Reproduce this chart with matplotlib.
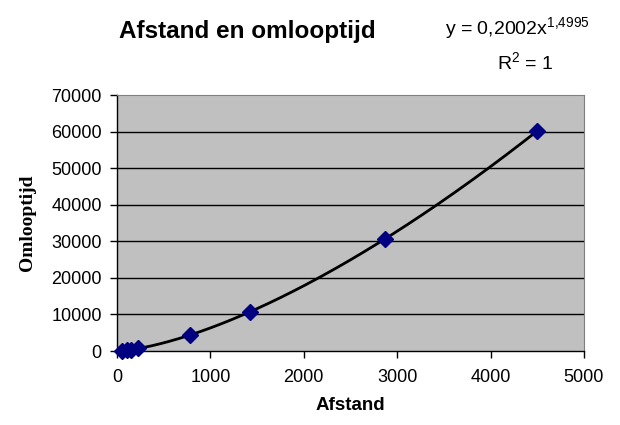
import matplotlib.pyplot as plt
import numpy as np

# planets: distance (10^6 km) and orbital period (days)
afstand = [58, 108, 150, 228, 778, 1427, 2871, 4497]
omlooptijd = [88, 225, 365, 687, 4333, 10759, 30687, 60190]

# power trendline as reported on the chart
coef_a = 0.2002
coef_b = 1.4995

xticks = [0, 1000, 2000, 3000, 4000, 5000]
yticks = [0, 10000, 20000, 30000, 40000, 50000, 60000, 70000]

plt.rcParams['font.family'] = ['Liberation Sans', 'DejaVu Sans']
plt.rcParams['mathtext.default'] = 'regular'

fig = plt.figure(figsize=(6.2, 4.25), dpi=100)
ax = fig.add_axes([117 / 620, 1 - 351 / 425, 467 / 620, 256 / 425])
ax.set_facecolor('#c0c0c0')

for y in yticks[1:-1]:
    ax.axhline(y, color='black', linewidth=1.0, zorder=1)

xs = np.linspace(min(afstand), max(afstand), 200)
ax.plot(xs, coef_a * xs ** coef_b, color='black', linewidth=2.0, zorder=2)
ax.plot(afstand, omlooptijd, 'D', color='#000080', markersize=8,
        markeredgecolor='#000080', zorder=3, clip_on=False)

ax.set_xlim(0, 5000)
ax.set_ylim(0, 70000)
ax.set_xticks(xticks)
ax.set_yticks(yticks)
ax.tick_params(direction='out', length=5, width=1, labelsize=13, colors='black')
ax.tick_params(axis='x', pad=8)
ax.tick_params(axis='y', pad=6)

for side in ('top', 'right'):
    ax.spines[side].set_color('#808080')
for side in ('left', 'bottom'):
    ax.spines[side].set_color('black')
    ax.spines[side].set_linewidth(1.0)

ax.set_xlabel('Afstand', fontsize=13.5, fontweight='bold', labelpad=8)
ax.set_ylabel('Omlooptijd', fontsize=14, fontweight='bold',
              family='Liberation Serif', labelpad=11)

fig.text(247 / 620, 1 - 38 / 425, 'Afstand en omlooptijd', fontsize=17.5,
         fontweight='bold', ha='center', va='baseline')
fig.text(590 / 620, 1 - 28 / 425, r'y = 0,2002x$^{1{,}4995}$', fontsize=14,
         ha='right', va='center')
fig.text(525 / 620, 1 - 62 / 425, r'R$^{2}$ = 1', fontsize=14,
         ha='center', va='center')

fig.savefig('out.png', dpi=100)
